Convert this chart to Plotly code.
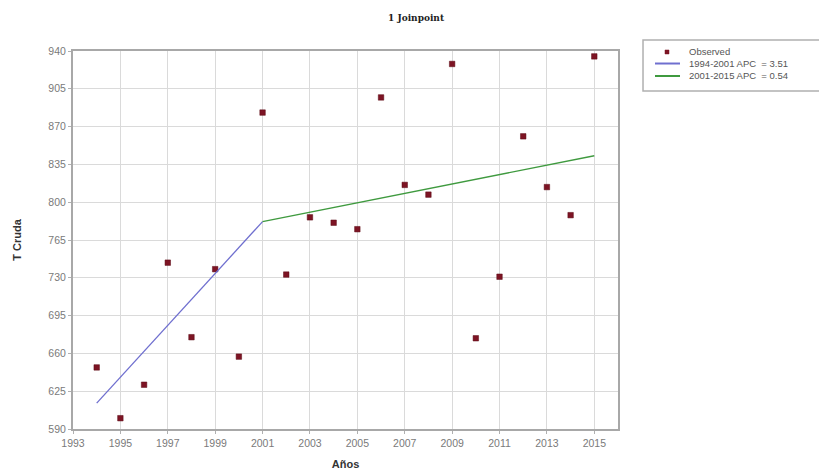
import plotly.graph_objects as go

years = [1994, 1995, 1996, 1997, 1998, 1999, 2000, 2001, 2002, 2003, 2004,
         2005, 2006, 2007, 2008, 2009, 2010, 2011, 2012, 2013, 2014, 2015]
observed = [647, 600, 631, 744, 675, 738, 657, 883, 733, 786, 781,
            775, 897, 816, 807, 928, 674, 731, 861, 814, 788, 935]

seg1_years = [1994, 2001]
seg1_fit = [614, 782]
seg2_years = [2001, 2015]
seg2_fit = [782, 843]

series_names = ["Observed", "1994-2001 APC  = 3.51", "2001-2015 APC  = 0.54"]
series_colors = ["#7d1424", "#6f6fcf", "#3f9a3f"]

x_ticks = list(range(1993, 2016, 2))
y_ticks = list(range(590, 941, 35))

fig = go.Figure()
fig.add_trace(go.Scatter(
    x=years, y=observed, mode="markers", name=series_names[0],
    marker=dict(symbol="square", size=5.5, color=series_colors[0],
                line=dict(width=0.5, color="#5a0a14"))))
fig.add_trace(go.Scatter(
    x=seg1_years, y=seg1_fit, mode="lines", name=series_names[1],
    line=dict(color=series_colors[1], width=1.3)))
fig.add_trace(go.Scatter(
    x=seg2_years, y=seg2_fit, mode="lines", name=series_names[2],
    line=dict(color=series_colors[2], width=1.3)))

tick_font = dict(family="Liberation Sans, Arial, sans-serif", size=10.5, color="#7a7a7a")
title_font = dict(family="Liberation Sans, Arial, sans-serif", size=11, color="#333333")

axis_common = dict(
    showgrid=True, gridcolor="#dadada", gridwidth=1,
    showline=True, linecolor="#a8a8a8", linewidth=2, mirror=True,
    ticks="outside", ticklen=3, tickcolor="#b0b0b0",
    tickfont=tick_font, zeroline=False, automargin=False,
)

# manual legend (compact, like the reference)
shapes = [
    dict(type="rect", xref="paper", yref="paper", x0=1.0459, x1=1.3817, y0=0.8942, y1=1.0291,
         line=dict(color="#b0b0b0", width=1.5), fillcolor="white", layer="above"),
    dict(type="rect", xref="paper", yref="paper", xsizemode="pixel", ysizemode="pixel",
         xanchor=1.0899, yanchor=0.9974, x0=-2, x1=2, y0=-2, y1=2,
         line=dict(color=series_colors[0], width=0.5), fillcolor=series_colors[0], layer="above"),
    dict(type="line", xref="paper", yref="paper", x0=1.0679, x1=1.1138, y0=0.9669, y1=0.9669,
         line=dict(color=series_colors[1], width=2), layer="above"),
    dict(type="line", xref="paper", yref="paper", x0=1.0679, x1=1.1138, y0=0.9339, y1=0.9339,
         line=dict(color=series_colors[2], width=2), layer="above"),
]
legend_rows_y = [0.9974, 0.9669, 0.9339]
annotations = [
    dict(text=name, xref="paper", yref="paper", x=1.1266, y=yy, xanchor="left", yanchor="middle",
         showarrow=False, font=dict(family="Liberation Sans, Arial, sans-serif", size=9.5, color="#555555"))
    for name, yy in zip(series_names, legend_rows_y)
]

fig.update_layout(
    width=827, height=472,
    margin=dict(l=65, r=217, t=43, b=51),
    paper_bgcolor="white", plot_bgcolor="white",
    showlegend=False,
    title=dict(text="<b>1 Joinpoint</b>", x=0.4934, xanchor="center", y=0.98, yanchor="middle",
               font=dict(family="DejaVu Serif, serif", size=9, color="#222222")),
    xaxis=dict(range=[1993, 2016], tickvals=x_ticks,
               title=dict(text="<b>Años</b>", standoff=13, font=title_font),
               **axis_common),
    yaxis=dict(range=[590, 940], tickvals=y_ticks,
               title=dict(text="<b>T Cruda</b>", standoff=25, font=title_font),
               **axis_common),
    shapes=shapes,
    annotations=annotations,
)

fig.write_html("out.html")
